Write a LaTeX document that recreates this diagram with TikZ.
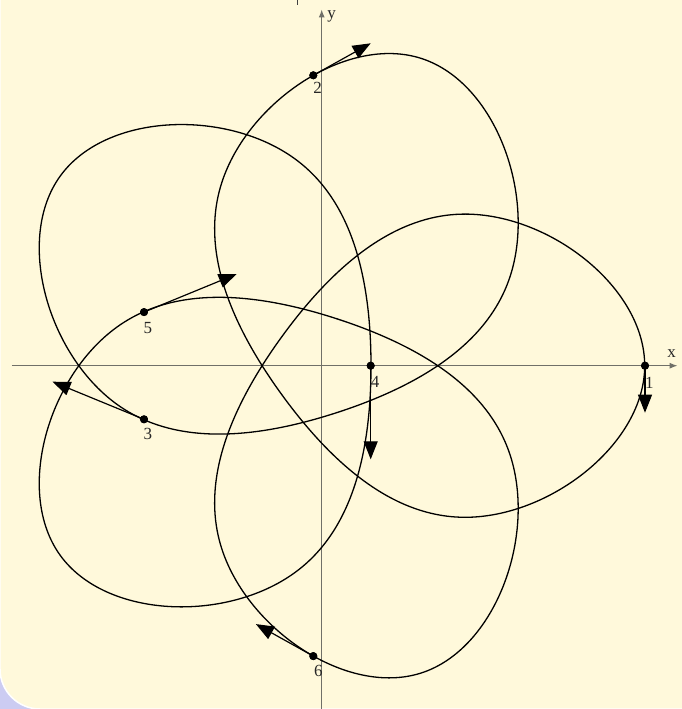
\documentclass[tikz,border=0pt]{standalone}
\usepackage{fontspec}
\setmainfont{Liberation Serif}
\usetikzlibrary{arrows.meta}
\definecolor{cream}{RGB}{255,249,219}
\definecolor{shadowblue}{RGB}{204,204,242}
\definecolor{axisgray}{RGB}{112,112,104}
\begin{document}
\begin{tikzpicture}[x=1pt,y=1pt,
  axis/.style={draw=axisgray,line width=1.4pt,-{Latex[length=8pt,width=6pt]}},
  orbit/.style={draw=black,line width=1.3pt,line cap=round,line join=round},
  pt/.style={circle,fill=black,inner sep=0pt,minimum size=8pt},
  vel/.style={draw=black,line width=1.2pt,-{Triangle[length=18pt,width=14pt]}},
  lbl/.style={inner sep=0pt,font=\fontsize{17}{17}\selectfont,text=black!85}]
\useasboundingbox (-321.7,-343.3) rectangle (360.3,365.7);
\clip (-321.7,-343.3) rectangle (360.3,365.7);
% background
\fill[shadowblue] (-330,-350) rectangle (-250,-270);
\path[fill=cream,draw=white,line width=1.5pt] (-321.7,400) -- (-321.7,-303.3)
  arc[start angle=180,end angle=270,radius=40] -- (400,-343.3) -- (400,400) -- cycle;
% axes
\coordinate (xs) at (-309.7,0);
\coordinate (xe) at (356,0);
\coordinate (ys) at (0,-350);
\coordinate (ye) at (0,356.4);
\draw[axis] (xs) -- (xe);
\draw[axis] (ys) -- (ye);
\node[lbl] (xlab) at (350,11.7) {x};
\node[lbl] (ylab) at (9.8,349.7) {y};
\coordinate (m1) at (-24.7,367);
\coordinate (m2) at (-24.7,360.5);
\draw[black!75,line width=0.8pt] (m1) -- (m2);
% orbit: five lobes
\foreach \k in {0,...,4}{
  \draw[orbit,rotate=72*\k] (-39.885,-28.978)
    .. controls (30.65,-126.06) and (93.4,-151.6) .. (143.4,-151.6)
    .. controls (228.4,-151.6) and (323,-78) .. (323,0)
    .. controls (323,78) and (228.4,151.6) .. (143.4,151.6)
    .. controls (93.4,151.6) and (30.65,126.06) .. (-39.885,28.978);
}
% points
\node[pt] (p1) at (323.3,0) {};
\node[pt] (p2) at (-8.4,290.4) {};
\node[pt] (p3) at (-177.7,-53.6) {};
\node[pt] (p4) at (49,0) {};
\node[pt] (p5) at (-177.7,53.6) {};
\node[pt] (p6) at (-8.4,-290.4) {};
% velocity tips
\coordinate (t1) at (323.3,-47);
\coordinate (t2) at (49,322.4);
\coordinate (t3) at (-269.2,-16);
\coordinate (t4) at (49,-93.6);
\coordinate (t5) at (-85,91.7);
\coordinate (t6) at (-65.8,-258.4);
\foreach \i in {1,...,6}{\draw[vel] (p\i.center) -- (t\i);}
\foreach \i in {1,...,6}{\node[pt] at (p\i) {};}
% labels
\node[lbl] (l1) at (327.6,-17.6) {1};
\node[lbl] (l2) at (-4,277.4) {2};
\node[lbl] (l3) at (-173.7,-68.6) {3};
\node[lbl] (l4) at (53.3,-16) {4};
\node[lbl] (l5) at (-173.7,38) {5};
\node[lbl] (l6) at (-3.4,-305.3) {6};
\end{tikzpicture}
\end{document}
